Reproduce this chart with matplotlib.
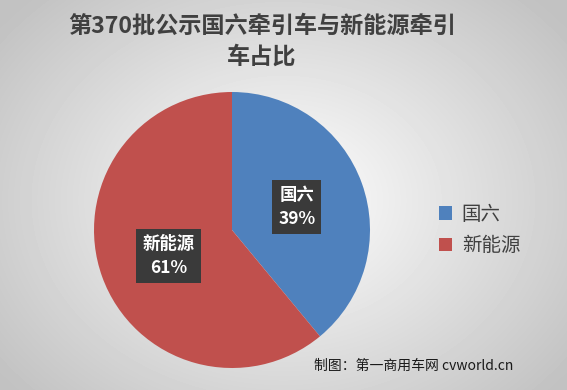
import matplotlib.pyplot as plt
import numpy as np

plt.rcParams['font.family'] = ['Noto Sans CJK SC', 'DejaVu Sans']

categories = ["国六", "新能源"]
shares = [39, 61]
colors = ["#4f81bd", "#c0504d"]
title = "第370批公示国六牵引车与新能源牵引\n车占比"

fig = plt.figure(figsize=(5.67, 3.90), dpi=100)

# background radial gradient
bg = fig.add_axes([0, 0, 1, 1])
yy, xx = np.mgrid[0:390, 0:567]
r = np.sqrt(((xx - 283) / 330.0) ** 2 + ((yy - 200) / 260.0) ** 2)
shade = np.clip(1.0 - 0.22 * r, 0.76, 1.0)
bg.imshow(shade, cmap="gray", vmin=0, vmax=1, aspect="auto")
bg.axis("off")

# pie: center (232, 230), radius 138 px
ax = fig.add_axes([(232 - 138) / 567, (390 - 230 - 138) / 390, 276 / 567, 276 / 390])
wedges, _ = ax.pie(shares, colors=colors, startangle=90, counterclock=False,
                   wedgeprops=dict(edgecolor="none"))
ax.set_xlim(-1, 1)
ax.set_ylim(-1, 1)
ax.set_aspect("equal")

box = dict(boxstyle="square,pad=0.35", facecolor="#3a3a3a", edgecolor="none")
ax.text(0.47, 0.167, "国六\n39%", ha="center", va="center", color="white",
        fontsize=12.5, fontweight="bold", linespacing=1.4, bbox=box)
ax.text(-0.46, -0.19, "新能源\n61%", ha="center", va="center", color="white",
        fontsize=12.5, fontweight="bold", linespacing=1.4, bbox=box)

fig.text(262 / 567, 1 - 42 / 390, title, ha="center", va="center", fontsize=16.7,
         fontweight="bold", color="#404040", linespacing=1.4)

leg = fig.legend(wedges, categories, loc="center left",
                 bbox_to_anchor=(421 / 567, 1 - 230 / 390), frameon=False,
                 fontsize=14, labelcolor="#404040", handlelength=0.7,
                 handleheight=0.7, labelspacing=0.55, handletextpad=0.5)

fig.text(1 - 54 / 567, 1 - 366 / 390, "制图：第一商用车网 cvworld.cn", ha="right",
         va="center", fontsize=10, color="#1a1a1a")

fig.savefig("out.png", dpi=100)
